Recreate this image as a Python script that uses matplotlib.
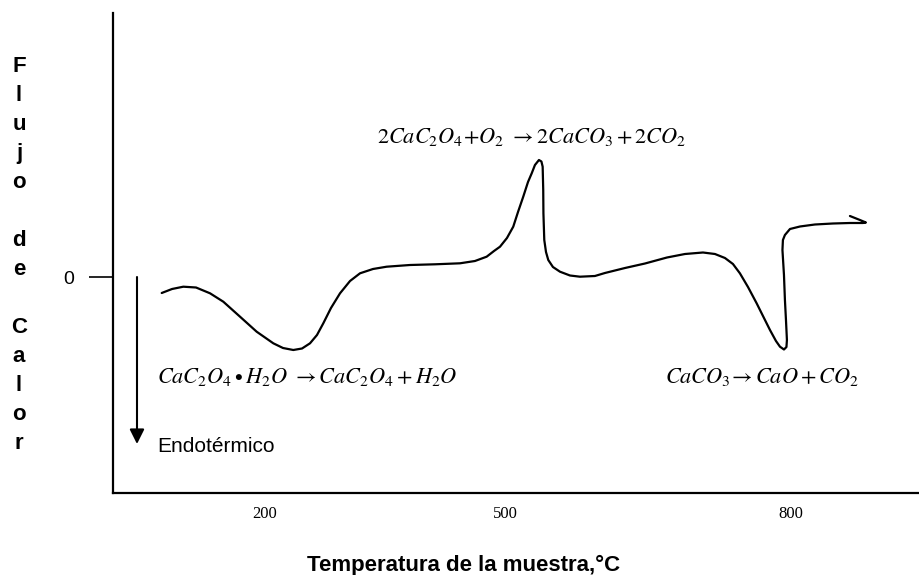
import numpy as np
import matplotlib.pyplot as plt

# curva de DSC del oxalato de calcio
temp = [70.9, 83.8, 97.9, 113.8, 131.3, 147.9, 168.8, 189.6, 210.4, 222.5,
        235.4, 246.3, 256.3, 265.0, 272.9, 282.5, 293.8, 306.3, 318.8, 335.0,
        352.1, 381.3, 412.5, 443.8, 462.5, 477.1, 486.3, 493.8, 502.1, 508.7,
        513.7, 519.2, 524.2, 528.1, 531.5, 535.7, 538.3, 539.6, 540.2, 540.4,
        541.3, 543.1, 545.5, 550.4, 557.8, 568.3, 578.8, 594.5, 605.0, 626.1,
        647.1, 670.2, 689.1, 708.0, 720.6, 731.1, 739.5, 746.8, 755.3, 764.4,
        772.1, 778.4, 784.7, 788.9, 793.1, 795.7, 796.2, 795.2, 794.1, 793.1,
        791.5, 792.0, 794.1, 799.4, 809.9, 825.6, 844.5, 862.4, 876.1, 879.2,
        872.9, 862.4]
flujo = [-1.6, -1.2, -0.97, -1.05, -1.63, -2.47, -3.97, -5.47, -6.63, -7.1,
         -7.3, -7.15, -6.63, -5.8, -4.63, -3.1, -1.63, -0.4, 0.37, 0.8,
         1.03, 1.2, 1.27, 1.37, 1.6, 2.03, 2.6, 3.03, 3.9, 5.03,
         6.5, 8.03, 9.5, 10.37, 11.2, 11.7, 11.55, 11.03, 8.7, 6.37,
         3.7, 2.5, 1.7, 1.0, 0.53, 0.15, 0.03, 0.1, 0.4, 0.9,
         1.35, 1.95, 2.3, 2.45, 2.3, 1.9, 1.3, 0.37, -1.0, -2.63,
         -4.1, -5.3, -6.4, -6.97, -7.25, -7.0, -6.3, -4.3, -2.3, 0.2,
         2.7, 3.7, 4.2, 4.8, 5.05, 5.25, 5.35, 5.4, 5.4, 5.45,
         5.7, 6.1]

xticks = [200, 500, 800]
xlabels = ['200', '500', '800']
yticks = [0]
ylabels = ['0']

# el eje del dibujo original no es lineal: el tramo 500-800 esta mas estirado
def fwd(t):
    t = np.asarray(t, dtype=float)
    return np.where(t <= 500, t, 500 + (t - 500) * 1.19)

def inv(p):
    p = np.asarray(p, dtype=float)
    return np.where(p <= 500, p, 500 + (p - 500) / 1.19)

plt.rcParams['font.family'] = ['Liberation Sans', 'DejaVu Sans']
plt.rcParams['mathtext.fontset'] = 'stix'

fig = plt.figure(figsize=(9.2, 5.75), dpi=100)
ax = fig.add_axes([113 / 920, 1 - 493 / 575, 1 - 113 / 920, 480 / 575])
ax.set_xscale('function', functions=(fwd, inv))
ax.set_xlim(10, 936)
ax.set_ylim(-21.6, 26.4)

ax.plot(temp, flujo, color='black', lw=1.6, solid_joinstyle='round',
        solid_capstyle='round')

for s in ['top', 'right']:
    ax.spines[s].set_visible(False)
for s in ['left', 'bottom']:
    ax.spines[s].set_linewidth(1.6)

ax.set_xticks(xticks)
ax.set_xticklabels(xlabels, family='Liberation Serif', fontsize=12)
ax.set_yticks(yticks)
ax.set_yticklabels(ylabels, fontsize=14)
ax.tick_params(axis='x', length=0, pad=9)
ax.tick_params(axis='y', length=17, width=1.2, pad=11)

ax.text(528, 13.4, r'$2CaC_2O_4\!+\!O_2\ \rightarrow 2CaCO_3 + 2CO_2$',
        ha='center', va='baseline', fontsize=16)
ax.text(65, -10.6, r'$CaC_2O_4\bullet H_2O\ \rightarrow CaC_2O_4 + H_2O$',
        ha='left', va='baseline', fontsize=16)
ax.text(668, -10.6, r'$CaCO_3\!\rightarrow CaO + CO_2$',
        ha='left', va='baseline', fontsize=16)

ax.annotate('', xy=(40, -16.7), xytext=(40, 0),
            arrowprops=dict(arrowstyle='-|>', color='black', lw=1.5,
                            mutation_scale=22, shrinkA=0, shrinkB=0))
ax.text(65, -16.9, 'Endotérmico', ha='left', va='center', fontsize=15)

# etiqueta vertical letra por letra
for i, ch in enumerate('Flujo de Calor'):
    fig.text(19 / 920, 1 - (72 + 29 * i) / 575, ch, ha='center',
             va='baseline', fontsize=16, fontweight='bold')

fig.text(464 / 920, 1 - 565 / 575, 'Temperatura de la muestra,°C',
         ha='center', va='center', fontsize=16, fontweight='bold')

fig.savefig('out.png', dpi=100)
